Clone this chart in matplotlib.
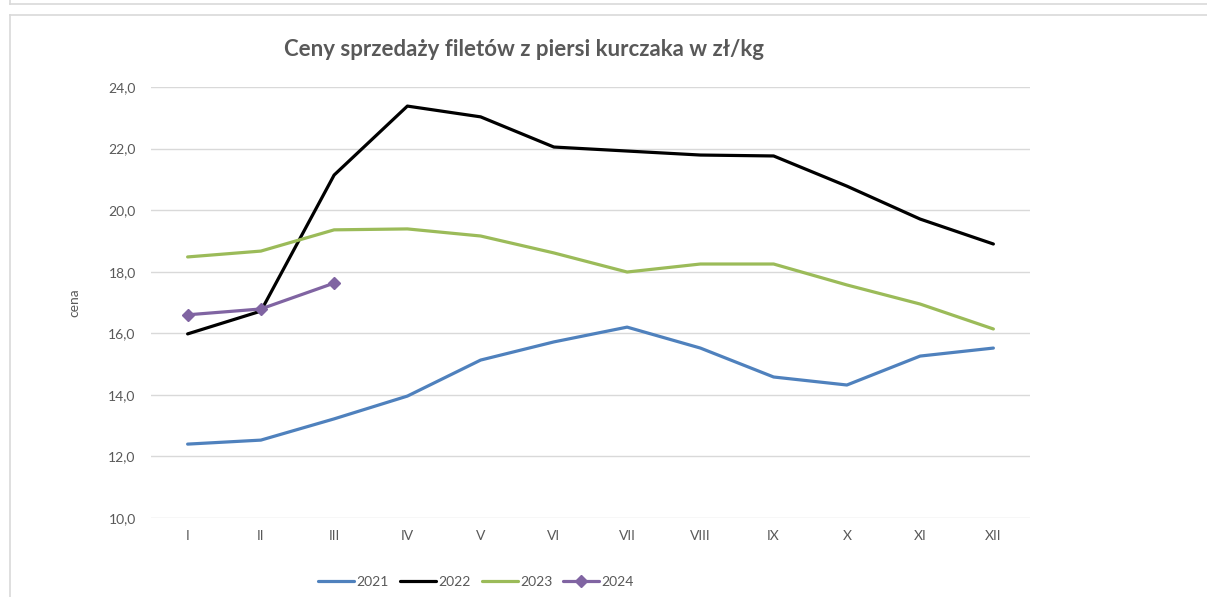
import numpy as np
import matplotlib.pyplot as plt
from matplotlib.lines import Line2D

# Data
months = ["I", "II", "III", "IV", "V", "VI", "VII", "VIII", "IX", "X", "XI", "XII"]
y2021 = [12.40, 12.53, 13.22, 13.96, 15.13, 15.72, 16.20, 15.52, 14.58, 14.32, 15.26, 15.52]
y2022 = [15.98, 16.72, 21.14, 23.38, 23.03, 22.05, 21.92, 21.79, 21.76, 20.78, 19.71, 18.90]
y2023 = [18.48, 18.67, 19.36, 19.39, 19.16, 18.61, 17.99, 18.25, 18.25, 17.57, 16.95, 16.14]
y2024 = [16.60, 16.79, 17.63]
y_ticks = [10, 12, 14, 16, 18, 20, 22, 24]

plt.rcParams['font.family'] = ['Lato', 'DejaVu Sans']
text_col = '#595959'

fig = plt.figure(figsize=(12.07, 5.97), dpi=100)
ax = fig.add_axes([151 / 1207, 1 - 518 / 597, 879 / 1207, 431 / 597])

x = np.arange(len(months))
ax.plot(x, y2021, color='#4F81BD', lw=2.3, label='2021', solid_capstyle='round')
ax.plot(x, y2022, color='#000000', lw=2.3, label='2022', solid_capstyle='round')
ax.plot(x, y2023, color='#9BBB59', lw=2.3, label='2023', solid_capstyle='round')
ax.plot(x[:len(y2024)], y2024, color='#8064A2', lw=2.3, marker='D', ms=6.5,
        label='2024', solid_capstyle='round')

ax.set_xlim(-0.5, len(months) - 0.5)
ax.set_ylim(10, 24)
ax.set_yticks(y_ticks)
ax.set_yticklabels([f"{v:.1f}".replace('.', ',') for v in y_ticks])
ax.set_xticks(x)
ax.set_xticklabels(months)
ax.tick_params(axis='both', length=0, labelsize=10, colors=text_col)
ax.tick_params(axis='y', pad=11)
ax.tick_params(axis='x', pad=9)
ax.grid(axis='y', color='#d9d9d9', lw=1)
ax.set_axisbelow(True)
for s in ax.spines.values():
    s.set_visible(False)

ax.set_ylabel('cena', color=text_col, fontsize=10, labelpad=20)

fig.text(524 / 1207, 1 - 50 / 597, 'Ceny sprzedaży filetów z piersi kurczaka w zł/kg',
         ha='center', va='center', fontsize=16, fontweight='bold', color=text_col)

leg = ax.legend(loc='center', bbox_to_anchor=(476 / 1207, 1 - 582 / 597),
                bbox_transform=fig.transFigure, ncol=4, frameon=False,
                fontsize=10, handlelength=2.6, handletextpad=0.15, columnspacing=0.8)
for t in leg.get_texts():
    t.set_color(text_col)

# frame lines of the sheet around the chart
fc = '#d9d9d9'
fig.add_artist(Line2D([9.5 / 1207, 1], [1 - 3.5 / 597] * 2, color=fc, lw=1.2))
fig.add_artist(Line2D([9.5 / 1207] * 2, [1, 1 - 3.5 / 597], color=fc, lw=1.2))
fig.add_artist(Line2D([9.5 / 1207, 1], [1 - 14.5 / 597] * 2, color=fc, lw=1.2))
fig.add_artist(Line2D([9.5 / 1207] * 2, [0, 1 - 14.5 / 597], color=fc, lw=1.2))

fig.savefig('out.png', dpi=100)
